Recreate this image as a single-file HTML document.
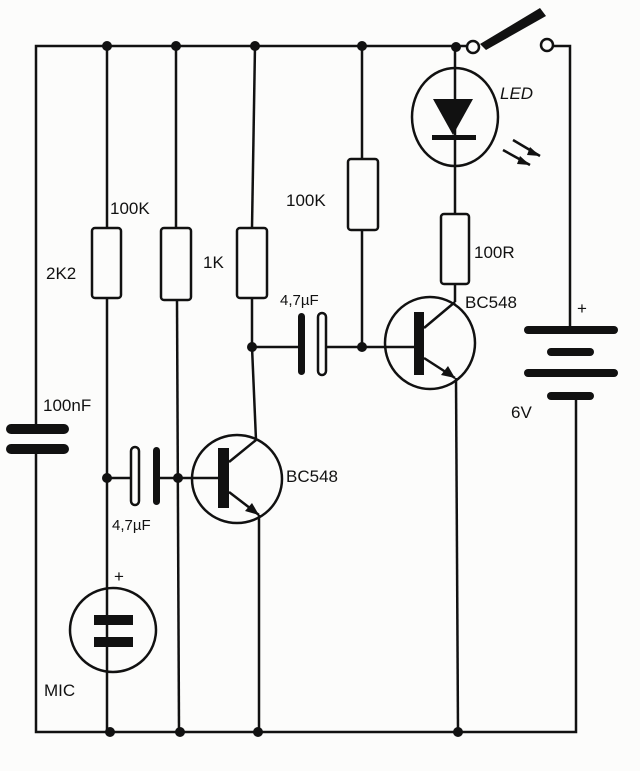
<!DOCTYPE html>
<html><head><style>body{margin:0;background:#fff}svg{display:block}text{font-family:"Liberation Sans",sans-serif;font-size:17px;fill:#111}</style></head>
<body>
<svg width="640" height="771" viewBox="0 0 640 771" xmlns="http://www.w3.org/2000/svg">
<rect width="640" height="771" fill="#fcfcfb"/>
<g stroke="#111" stroke-width="2.5" fill="none">
<!-- rails -->
<polyline points="36,430 36,46 467,46"/>
<polyline points="36,448 36,732 576,732 576,396"/>
<polyline points="553,46 570,46 570,330"/>
<!-- vertical lines -->
<line x1="107" y1="46" x2="107" y2="228"/><line x1="107" y1="298" x2="107" y2="732"/>
<line x1="176" y1="46" x2="176" y2="228"/><line x1="177" y1="300" x2="179" y2="732"/>
<line x1="255" y1="46" x2="252" y2="228"/><line x1="252" y1="298" x2="252" y2="347"/>
<line x1="252" y1="347" x2="256" y2="440"/><line x1="259" y1="515" x2="259" y2="732"/>
<line x1="362" y1="46" x2="362" y2="159"/><line x1="362" y1="230" x2="362" y2="347"/>
<line x1="455" y1="46" x2="455" y2="214"/><line x1="455" y1="284" x2="455" y2="302"/>
<line x1="456" y1="378" x2="458" y2="732"/>
<!-- resistors -->
<rect x="92" y="228" width="29" height="70" rx="3"/>
<rect x="161" y="228" width="30" height="72" rx="3"/>
<rect x="237" y="228" width="30" height="70" rx="3"/>
<rect x="348" y="159" width="30" height="71" rx="3"/>
<rect x="441" y="214" width="28" height="70" rx="3"/>
<!-- cap wires -->
<line x1="252" y1="347" x2="300" y2="347"/><line x1="326" y1="347" x2="414" y2="347"/>
<line x1="107" y1="478" x2="131" y2="478"/><line x1="159" y1="478" x2="218" y2="478"/>
<!-- hollow plates -->
<rect x="318" y="313" width="8" height="62" rx="4"/>
<rect x="131" y="447" width="8" height="58" rx="4"/>
<!-- transistors -->
<ellipse cx="430" cy="343" rx="45" ry="46"/>
<line x1="424" y1="328" x2="455" y2="302"/><line x1="424" y1="358" x2="455" y2="378"/>
<ellipse cx="237" cy="479" rx="45" ry="44"/>
<line x1="229" y1="462" x2="256" y2="440"/><line x1="229" y1="492" x2="259" y2="515"/>
<!-- LED -->
<ellipse cx="455" cy="117" rx="43" ry="49"/>
<line x1="503" y1="150" x2="530" y2="165"/><line x1="513" y1="140" x2="540" y2="156"/>
<!-- mic -->
<ellipse cx="113" cy="630" rx="43" ry="42"/>
<!-- switch -->
<circle cx="473" cy="47" r="6"/><circle cx="547" cy="45" r="6"/>
</g>
<g fill="#111">
<rect x="298" y="313" width="7" height="62" rx="3.5"/>
<rect x="153" y="447" width="7" height="58" rx="3.5"/>
<rect x="414" y="312" width="10" height="63"/>
<rect x="218" y="448" width="11" height="60"/>
<polygon points="455,378 441,375 448,366"/>
<polygon points="259,515 245,511 252,503"/>
<polygon points="433,99 473,99 453,135"/>
<rect x="432" y="135" width="44" height="5"/>
<polygon points="530,165 520,156 517,164"/><polygon points="540,156 530,147 527,155"/>
<rect x="6" y="424" width="63" height="10" rx="5"/><rect x="6" y="444" width="63" height="10" rx="5"/>
<rect x="94" y="615" width="39" height="10"/><rect x="94" y="637" width="39" height="10"/>
<rect x="524" y="326" width="94" height="8" rx="4"/><rect x="547" y="348" width="47" height="8" rx="4"/>
<rect x="524" y="369" width="94" height="8" rx="4"/><rect x="547" y="392" width="47" height="8" rx="4"/>
<polygon points="480,44 540,8 546,16 486,50"/>
<circle cx="107" cy="46" r="5"/><circle cx="176" cy="46" r="5"/><circle cx="255" cy="46" r="5"/>
<circle cx="362" cy="46" r="5"/><circle cx="456" cy="47" r="5"/>
<circle cx="252" cy="347" r="5"/><circle cx="362" cy="347" r="5"/>
<circle cx="107" cy="478" r="5"/><circle cx="178" cy="478" r="5"/>
<circle cx="110" cy="732" r="5"/><circle cx="180" cy="732" r="5"/><circle cx="258" cy="732" r="5"/><circle cx="458" cy="732" r="5"/>
</g>
<text x="110" y="214">100K</text>
<text x="46" y="279">2K2</text>
<text x="203" y="268">1K</text>
<text x="286" y="206">100K</text>
<text x="474" y="258">100R</text>
<text x="500" y="99" font-style="italic">LED</text>
<text x="465" y="308">BC548</text>
<text x="280" y="305" style="font-size:15px">4,7µF</text>
<text x="43" y="411">100nF</text>
<text x="286" y="482">BC548</text>
<text x="112" y="530" style="font-size:15px">4,7µF</text>
<text x="114" y="582">+</text>
<text x="44" y="696">MIC</text>
<text x="577" y="314">+</text>
<text x="511" y="418">6V</text>
</svg>
</body></html>
